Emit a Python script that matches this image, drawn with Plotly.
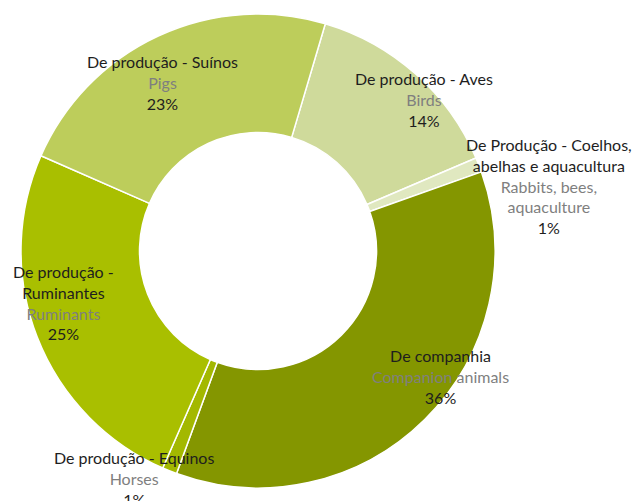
import plotly.graph_objects as go

# Data
categories_pt = [
    "De produção - Aves",
    "De Produção - Coelhos,<br>abelhas e aquacultura",
    "De companhia",
    "De produção - Equinos",
    "De produção -<br>Ruminantes",
    "De produção - Suínos",
]
categories_en = [
    "Birds",
    "Rabbits, bees,<br>aquaculture",
    "Companion animals",
    "Horses",
    "Ruminants",
    "Pigs",
]
values = [14, 1, 36, 1, 25, 23]

# Styles
colors = ["#CFDA9B", "#E0E8C0", "#849600", "#A3B800", "#A9BF00", "#BDCD5B"]
W, H = 634, 501
CX, CY, R = 258, 251, 237
# label block centres (pixels) for each slice
label_pos = [(424, 100), (549, 186), (440, 376), (134, 478), (63, 302), (162, 82)]

fig = go.Figure()
fig.add_trace(go.Pie(
    labels=[c.replace("<br>", " ") for c in categories_pt],
    values=values,
    hole=0.5,
    sort=False,
    direction="clockwise",
    rotation=16.5,
    marker=dict(colors=colors, line=dict(color="white", width=1.5)),
    textinfo="none",
    hoverinfo="label+percent",
    showlegend=False,
    domain=dict(x=[(CX - R) / W, (CX + R) / W], y=[(H - CY - R) / H, (H - CY + R) / H]),
))

total = sum(values)
for pt, en, v, (px, py) in zip(categories_pt, categories_en, values, label_pos):
    pct = round(100 * v / total)
    txt = (f"<span style='color:#1E1E1E'>{pt}</span><br>"
           f"<span style='color:#7F7F7F'>{en}</span><br>"
           f"<span style='color:#1E1E1E'>{pct}%</span>")
    fig.add_annotation(
        x=px / W, y=1 - py / H, xref="paper", yref="paper",
        xanchor="center", yanchor="middle", align="center",
        text=txt, showarrow=False,
        font=dict(family="Lato", size=16, color="#1E1E1E"),
    )

fig.update_layout(
    width=W, height=H,
    margin=dict(l=0, r=0, t=0, b=0),
    paper_bgcolor="white", plot_bgcolor="white",
)
fig.write_html("out.html")
